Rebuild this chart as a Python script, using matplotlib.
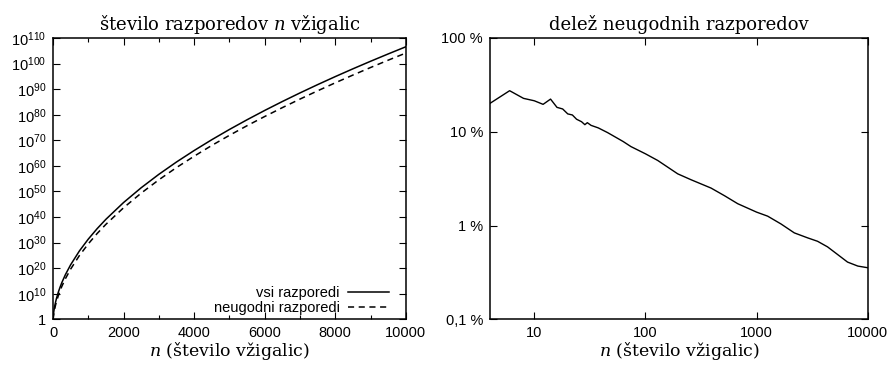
import numpy as np
import matplotlib
matplotlib.use('Agg')
import matplotlib.pyplot as plt
from matplotlib.ticker import FixedLocator, FixedFormatter, MultipleLocator, NullLocator

plt.rcParams.update({'font.family': 'Liberation Sans', 'font.size': 10.5,
                     'mathtext.fontset': 'custom', 'mathtext.rm': 'Liberation Sans',
                     'mathtext.it': 'DejaVu Serif:italic', 'axes.linewidth': 1.1})

SERIF = 'DejaVu Serif'

# left panel: log10 of number of arrangements
n_all = [0, 1, 5, 10, 20, 30, 50, 75, 100, 150, 200, 250, 350, 500, 750, 1000,
         1250, 1500, 2000, 2500, 3000, 3500, 4000, 4500, 5000, 5500, 6000, 6500,
         7000, 7500, 8000, 8500, 9000, 9500, 10000]
log_all = [0, 0, 0.85, 1.62, 2.80, 3.75, 5.31, 6.91, 8.28, 10.61, 12.6, 14.38,
           17.46, 21.36, 26.79, 31.38, 35.45, 39.13, 45.68, 51.46, 56.70, 61.52,
           66.0, 70.23, 74.23, 78.03, 81.67, 85.16, 88.52, 91.76, 94.90, 97.94,
           100.89, 103.76, 106.56]
log_bad = [0, 0, 0.23, 0.95, 1.95, 2.85, 4.28, 5.75, 7.04, 9.26, 11.17, 12.90,
           15.87, 19.66, 24.99, 29.52, 33.55, 37.17, 43.63, 49.36, 54.56, 59.35,
           63.78, 67.99, 71.94, 75.71, 79.30, 82.77, 86.11, 89.34, 92.47, 95.50,
           98.45, 101.32, 104.11]

# right panel: share of bad arrangements (%)
n_share = [4, 6, 8, 10, 12, 14, 16, 18, 20, 22, 24, 26.6, 28.5, 30, 32.4, 37.6,
           45.6, 63, 74, 100, 129, 195, 257, 389, 514, 676, 1000, 1256, 1656,
           2180, 2870, 3530, 4340, 5340, 6570, 8130, 10000]
share = [20.1, 27.4, 22.7, 21.4, 19.6, 22.3, 18.2, 17.5, 15.5, 15.1, 13.6, 12.8,
         11.9, 12.5, 11.7, 11.0, 9.8, 7.87, 6.95, 5.82, 4.94, 3.56, 3.08, 2.51,
         2.08, 1.71, 1.39, 1.26, 1.04, 0.836, 0.74, 0.68, 0.593, 0.492, 0.408,
         0.37, 0.355]

ylog_ticks = list(range(0, 111, 10))
ylog_labels = ['1'] + [r'$\mathregular{10^{%d}}$' % e for e in ylog_ticks[1:]]
share_ticks = [0.1, 1, 10, 100]
share_labels = ['0,1 %', '1 %', '10 %', '100 %']

fig = plt.figure(figsize=(8.91, 3.65), dpi=100)
ax1 = fig.add_axes([0.0595, 0.125, 0.396, 0.771])
ax2 = fig.add_axes([0.55, 0.125, 0.424, 0.771])

ax1.plot(n_all, 10.0 ** np.array(log_all), color='black', lw=1.1, label='vsi razporedi')
ax1.plot(n_all, 10.0 ** np.array(log_bad), color='black', lw=1.1, ls=(0, (4, 3)),
         label='neugodni razporedi')
ax1.set_yscale('log')
ax1.set_xlim(0, 10000)
ax1.set_ylim(1, 1e110)
ax1.yaxis.set_major_locator(FixedLocator([10.0 ** e for e in ylog_ticks]))
ax1.yaxis.set_major_formatter(FixedFormatter(ylog_labels))
ax1.yaxis.set_minor_locator(NullLocator())
ax1.xaxis.set_major_locator(MultipleLocator(2000))
ax1.xaxis.set_minor_locator(MultipleLocator(1000))
ax1.set_title(r'število razporedov $n$ vžigalic', family=SERIF, fontsize=13, pad=6)
ax1.set_xlabel(r'$n$ (število vžigalic)', family=SERIF, fontsize=12.5, labelpad=0)
ax1.legend(loc='lower right', bbox_to_anchor=(0.982, -0.022), frameon=False,
           markerfirst=False, handlelength=2.8, fontsize=10.5, borderaxespad=0.3,
           labelspacing=0.1, handletextpad=0.6)

ax2.plot(n_share, share, color='black', lw=1.0)
ax2.set_xscale('log')
ax2.set_yscale('log')
ax2.set_xlim(4, 10000)
ax2.set_ylim(0.1, 100)
ax2.xaxis.set_major_locator(FixedLocator([10, 100, 1000, 10000]))
ax2.xaxis.set_major_formatter(FixedFormatter(['10', '100', '1000', '10000']))
ax2.xaxis.set_minor_locator(NullLocator())
ax2.yaxis.set_major_locator(FixedLocator(share_ticks))
ax2.yaxis.set_major_formatter(FixedFormatter(share_labels))
ax2.yaxis.set_minor_locator(NullLocator())
ax2.set_title('delež neugodnih razporedov', family=SERIF, fontsize=13, pad=6)
ax2.set_xlabel(r'$n$ (število vžigalic)', family=SERIF, fontsize=12.5, labelpad=0)

for ax in (ax1, ax2):
    ax.tick_params(which='both', direction='in', top=True, right=True, labelsize=10.5, pad=5)
    ax.tick_params(which='major', length=5, width=0.8)
    ax.tick_params(which='minor', length=3, width=0.8)

fig.savefig('out.png', dpi=100)
